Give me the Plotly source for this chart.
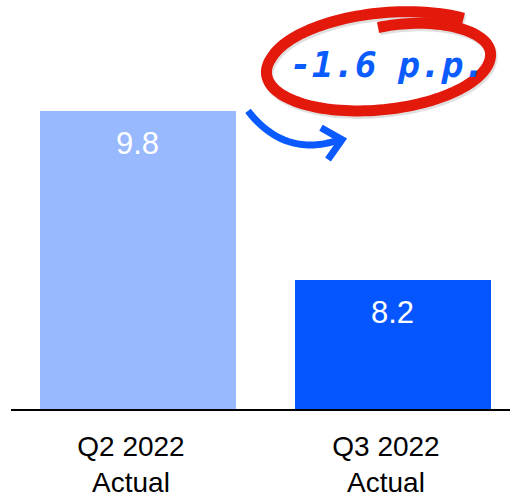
import numpy as np
import plotly.graph_objects as go

# Data
categories = ["Q2 2022<br>Actual", "Q3 2022<br>Actual"]
values = [9.8, 8.2]
bar_colors = ["#99b9ff", "#0656ff"]
change_label = "-1.6 p.p."

W, H = 510, 498
ML, MR, MT, MB = 11, 0, 0, 85


def px_to_paper(x, y):
    """Convert pixel position on the page to paper coordinates."""
    return (x - ML) / (W - ML - MR), 1 - (y - MT) / (H - MT - MB)


def svg_path(points):
    parts = []
    for i, (x, y) in enumerate(points):
        px, py = px_to_paper(x, y)
        parts.append(("M" if i == 0 else "L") + f"{px:.5f},{py:.5f}")
    return " ".join(parts)


fig = go.Figure()
fig.add_trace(go.Bar(
    x=categories, y=values, width=0.77,
    marker=dict(color=bar_colors, line=dict(width=0)),
    hoverinfo="skip",
))

# value labels inside the bars
for c, v in zip(categories, values):
    fig.add_annotation(
        x=c, y=v, xref="x", yref="y", text=f"{v:.1f}", showarrow=False,
        xanchor="center", yanchor="middle", yshift=-32,
        font=dict(family="Liberation Sans, Arial, sans-serif", size=31, color="white"),
    )

# hand-drawn loop around the change label (a slightly widening spiral)
cx, cy, rx, ry = 378.5, 64.0, 112.5, 47.0
tilt = np.deg2rad(-5.5)
theta = np.deg2rad(np.linspace(-88, 315, 160))
k = np.where(theta < 0, 0.76 + 0.24 * np.sin(theta + np.pi / 2),
             1.0 + 0.12 * np.clip((theta - np.deg2rad(200)) / np.deg2rad(115), 0, 1))
X = k * rx * np.cos(theta)
Y = k * ry * np.sin(theta)
ex = cx + X * np.cos(tilt) - Y * np.sin(tilt)
ey = cy + X * np.sin(tilt) + Y * np.cos(tilt)
loop_pts = list(zip(ex, ey))
fig.add_shape(type="path", xref="paper", yref="paper",
              path=svg_path([(x + 1.5, y + 2.5) for x, y in loop_pts]),
              line=dict(color="rgba(0,0,0,0.12)", width=11))
fig.add_shape(type="path", xref="paper", yref="paper",
              path=svg_path(loop_pts),
              line=dict(color="#e3190c", width=11))

# curved arrow from the first bar towards the second
t = np.linspace(0, 1, 40)
p0, p1, p2 = np.array([248, 112]), np.array([285, 160]), np.array([340, 141])
curve = [tuple((1 - s) ** 2 * p0 + 2 * (1 - s) * s * p1 + s ** 2 * p2) for s in t]
fig.add_shape(type="path", xref="paper", yref="paper", path=svg_path(curve),
              line=dict(color="#0a5aff", width=7))
fig.add_shape(type="path", xref="paper", yref="paper",
              path=svg_path([(321, 129), (342, 141), (328, 161)]),
              line=dict(color="#0a5aff", width=7))

# change label
lx, ly = px_to_paper(387, 65)
fig.add_annotation(x=lx, y=ly, xref="paper", yref="paper", text=change_label,
                   showarrow=False, xanchor="center", yanchor="middle",
                   font=dict(family="DejaVu Sans Mono", size=36, weight="bold",
                             style="italic", color="#0a5cff"))

fig.update_layout(
    width=W, height=H,
    margin=dict(l=ML, r=MR, t=MT, b=MB),
    paper_bgcolor="white", plot_bgcolor="white",
    showlegend=False, bargap=0,
    xaxis=dict(
        type="category", range=[-0.498, 1.459],
        showline=True, linecolor="black", linewidth=2,
        showgrid=False, zeroline=False, ticks="",
        ticklabelstandoff=11, ticklabelshift=-7,
        tickfont=dict(family="Liberation Sans, Arial, sans-serif", size=28, color="black"),
    ),
    yaxis=dict(range=[6.98, 10.855], visible=False, showgrid=False, zeroline=False),
)

fig.write_html("out.html")
